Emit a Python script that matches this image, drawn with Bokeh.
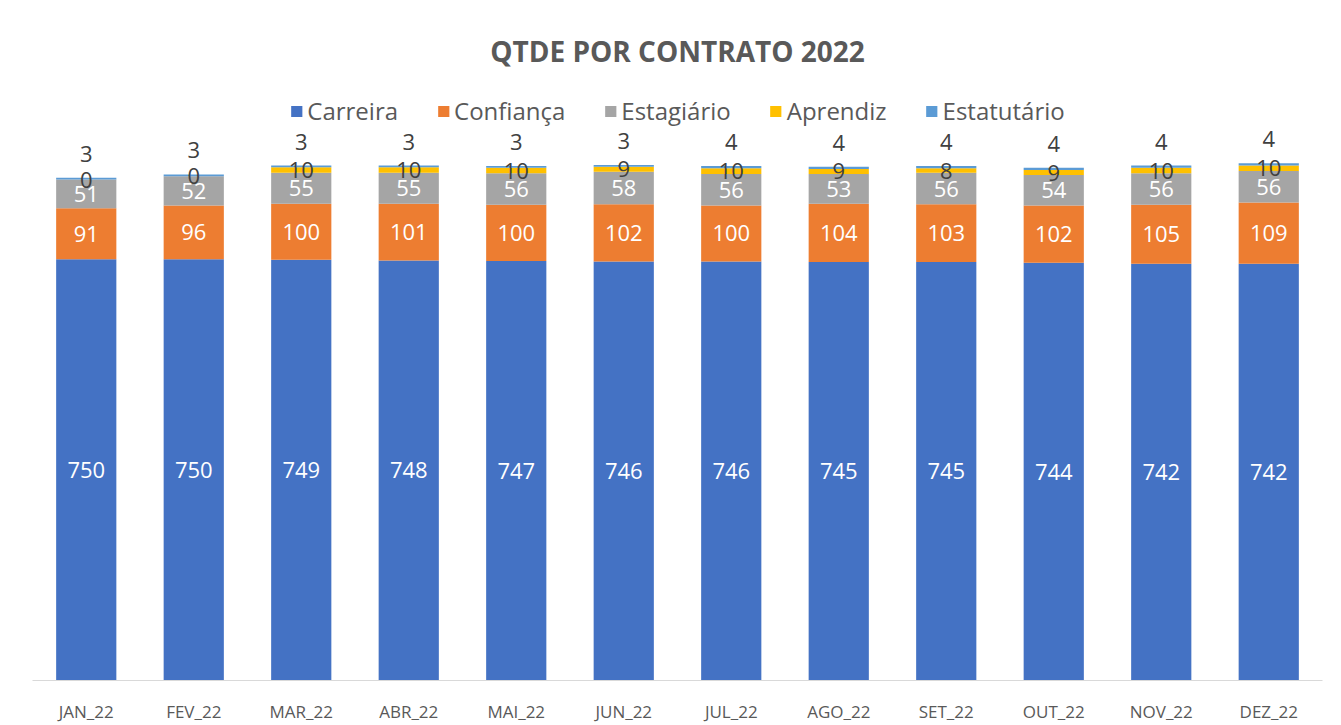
from bokeh.plotting import figure
from bokeh.models import ColumnDataSource, FactorRange, Range1d, Legend, LegendItem
from bokeh.core.properties import value
from bokeh.embed import file_html
from bokeh.resources import INLINE

months = ["JAN_22", "FEV_22", "MAR_22", "ABR_22", "MAI_22", "JUN_22",
          "JUL_22", "AGO_22", "SET_22", "OUT_22", "NOV_22", "DEZ_22"]
carreira = [750, 750, 749, 748, 747, 746, 746, 745, 745, 744, 742, 742]
confianca = [91, 96, 100, 101, 100, 102, 100, 104, 103, 102, 105, 109]
estagiario = [51, 52, 55, 55, 56, 58, 56, 53, 56, 54, 56, 56]
aprendiz = [0, 0, 10, 10, 10, 9, 10, 9, 8, 9, 10, 10]
estatutario = [3, 3, 3, 3, 3, 3, 4, 4, 4, 4, 4, 4]

series = ["Carreira", "Confiança", "Estagiário", "Aprendiz", "Estatutário"]
colors = ["#4472C4", "#ED7D31", "#A5A5A5", "#FFC000", "#5B9BD5"]
values = [carreira, confianca, estagiario, aprendiz, estatutario]

data = {"month": months}
for s, v in zip(series, values):
    data[s] = v
source = ColumnDataSource(data)

FONT = "Open Sans"

p = figure(x_range=FactorRange(*months, range_padding=0, factor_padding=0),
           y_range=Range1d(0, 1047),
           width=1341, height=725, output_backend="svg", toolbar_location=None,
           min_border_left=32, min_border_right=19, min_border_top=92, min_border_bottom=45,
           title="QTDE POR CONTRATO 2022")
p.title.align = "center"
p.title.text_font = FONT
p.title.text_font_size = "28px"
p.title.text_font_style = "bold"
p.title.text_color = "#595959"
p.title.standoff = 46
p.outline_line_color = None
p.grid.visible = False
p.yaxis.visible = False
p.xaxis.axis_line_color = "#d9d9d9"
p.xaxis.major_tick_line_color = None
p.xaxis.minor_tick_line_color = None
p.xaxis.major_label_standoff = 13
p.xaxis.major_label_text_font = FONT
p.xaxis.major_label_text_font_size = "17px"
p.xaxis.major_label_text_color = "#595959"

renderers = p.vbar_stack(series, x="month", width=0.56, color=colors, line_color=None, source=source)

legend = Legend(items=[LegendItem(label=s, renderers=[r]) for s, r in zip(series, renderers)],
                orientation="horizontal", location="top_center",
                label_text_font=FONT, label_text_font_size="24px", label_text_color="#595959",
                glyph_width=14, glyph_height=14, label_standoff=4, spacing=38,
                padding=0, margin=2, border_line_color=None, background_fill_alpha=0)
p.add_layout(legend, "center")

# data labels
bottom = [0] * len(months)
label_colors = ["white", "white", "white", "#404040", "#404040"]
for i, (s, v) in enumerate(zip(series, values)):
    mids = []
    tops = []
    for j in range(len(months)):
        mids.append(bottom[j] + v[j] / 2)
        tops.append(bottom[j] + v[j])
    ls = ColumnDataSource({"month": months, "y": mids if i < 4 else tops,
                           "txt": [str(x) for x in v]})
    p.text(x="month", y="y", text="txt", source=ls, text_align="center",
           text_baseline="middle", text_font=value(FONT), text_font_size="22px",
           text_color=label_colors[i], y_offset=(0 if i < 4 else -24))
    bottom = tops

open("out.html", "w").write(file_html(p, INLINE))
